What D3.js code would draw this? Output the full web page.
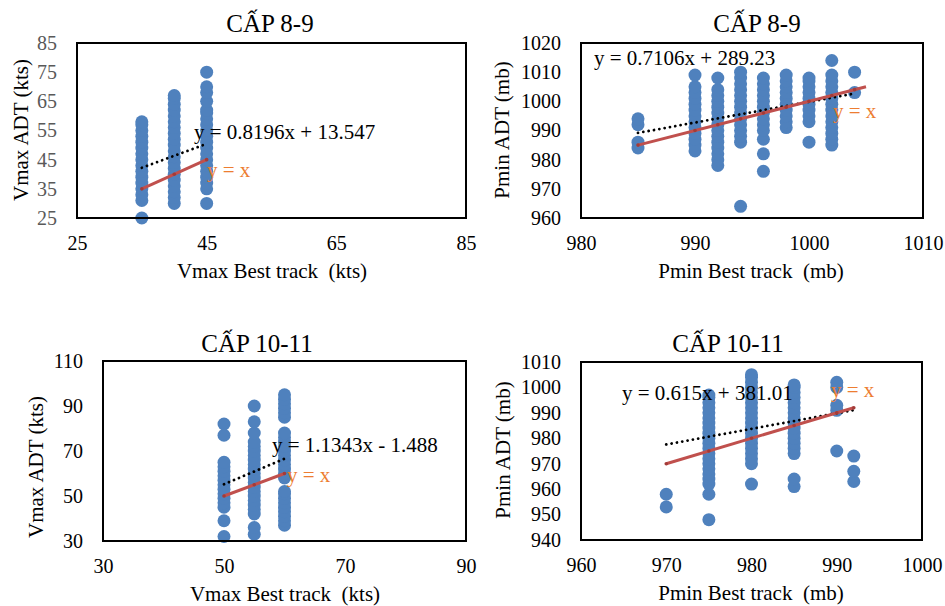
<!DOCTYPE html>
<html>
<head>
<meta charset="utf-8">
<script src="https://cdn.jsdelivr.net/npm/d3@7"></script>
<style>
body { margin: 0; background: #fff; }
text { font-family: "Liberation Serif", "Times New Roman", serif; }
</style>
</head>
<body>
<svg id="chart" width="945" height="606"></svg>
<script>
// Vmax cấp 8-9 (Best track x, ADT y)
var vmax89X = [35, 40, 45];
var vmax89Y = [
    [25, 31, 33, 35, 37, 39, 41, 43, 45, 47, 49, 51, 53, 55, 57, 58],
    [30, 32, 34, 36, 38, 40, 42, 44, 46, 48, 50, 52, 54, 56, 58, 60, 62, 64, 66, 67],
    [30, 35, 37, 39, 41, 43, 45, 47, 49, 51, 53, 55, 57, 59, 61, 62, 65, 68, 70, 75]
];

// Pmin cấp 8-9
var pmin89X = [985, 990, 992, 994, 996, 998, 1000, 1002, 1004];
var pmin89Y = [
    [984, 986, 992, 994],
    [983, 985, 987, 989, 991, 993, 995, 997, 999, 1001, 1003, 1005, 1009],
    [978, 980, 982, 984, 986, 988, 990, 992, 994, 996, 998, 1000, 1002, 1004, 1008],
    [964, 986, 988, 990, 992, 994, 996, 998, 1000, 1002, 1004, 1006, 1008, 1010],
    [976, 982, 987, 990, 992, 994, 996, 998, 1000, 1002, 1004, 1006, 1008],
    [991, 993, 995, 997, 999, 1001, 1003, 1005, 1007, 1009],
    [986, 993, 995, 997, 999, 1001, 1003, 1005, 1007, 1008],
    [985, 987, 989, 991, 993, 995, 997, 999, 1001, 1003, 1005, 1007, 1009, 1014],
    [1003, 1010]
];

// Vmax cấp 10-11
var vmax1011X = [50, 55, 60];
var vmax1011Y = [
    [32, 39, 45, 47, 49, 51, 53, 55, 57, 59, 61, 63, 65, 77, 82],
    [33, 36, 42, 44, 46, 48, 50, 52, 54, 56, 58, 60, 62, 64, 66, 68, 70, 72, 74, 78, 83, 90],
    [37, 39, 41, 43, 45, 47, 49, 51, 52, 58, 60, 62, 64, 66, 68, 70, 72, 74, 76, 78, 85, 87, 89, 91, 93, 95]
];

// Pmin cấp 10-11
var pmin1011X = [970, 975, 980, 985, 990, 992];
var pmin1011Y = [
    [953, 958],
    [948, 958, 962, 964, 966, 968, 970, 972, 974, 976, 978, 980, 982, 984, 986, 988, 990, 992, 994, 996, 997],
    [962, 970, 972, 974, 976, 978, 980, 982, 984, 986, 988, 990, 992, 994, 996, 998, 1000, 1002, 1004, 1005],
    [961, 964, 974, 976, 978, 980, 982, 984, 986, 988, 990, 992, 994, 996, 998, 1000, 1001],
    [975, 991, 993, 1000, 1002],
    [963, 967, 973]
];

// linear trendlines (slope, intercept) and y = x segments
var fitSlope = [0.8196, 0.7106, 1.1343, 0.615];
var fitIntercept = [13.547, 289.23, -1.488, 381.01];
var fitLabels = ["y = 0.8196x + 13.547", "y = 0.7106x + 289.23", "y = 1.1343x - 1.488", "y = 0.615x + 381.01"];
var identityRange = [[35, 45], [985, 1005], [50, 60], [970, 992]];

// axis ticks
var xTicks = [[25, 45, 65, 85], [980, 990, 1000, 1010], [30, 50, 70, 90], [960, 970, 980, 990, 1000]];
var yTicks = [[25, 35, 45, 55, 65, 75, 85], [960, 970, 980, 990, 1000, 1010, 1020],
              [30, 50, 70, 90, 110], [940, 950, 960, 970, 980, 990, 1000, 1010]];

var panels = [
    { xs: vmax89X, ys: vmax89Y, title: "CẤP 8-9", xLabel: "Vmax Best track  (kts)", yLabel: "Vmax ADT (kts)",
      left: 77, right: 466, top: 43, bottom: 218, titleX: 270, titleY: 32,
      xLabelX: 272, xLabelY: 278, yLabelX: 28, yLabelY: 130, yTickColor: "#595959",
      eq: [194, 139], idLab: [207, 177] },
    { xs: pmin89X, ys: pmin89Y, title: "CẤP 8-9", xLabel: "Pmin Best track  (mb)", yLabel: "Pmin ADT (mb)",
      left: 581, right: 923, top: 43, bottom: 218, titleX: 757, titleY: 32,
      xLabelX: 751, xLabelY: 278, yLabelX: 509, yLabelY: 130, yTickColor: "#000",
      eq: [594, 65], idLab: [833, 118] },
    { xs: vmax1011X, ys: vmax1011Y, title: "CẤP 10-11", xLabel: "Vmax Best track  (kts)", yLabel: "Vmax ADT (kts)",
      left: 103, right: 466, top: 361, bottom: 541, titleX: 257, titleY: 352,
      xLabelX: 285, xLabelY: 601, yLabelX: 43, yLabelY: 467, yTickColor: "#000",
      eq: [272, 452], idLab: [287, 482] },
    { xs: pmin1011X, ys: pmin1011Y, title: "CẤP 10-11", xLabel: "Pmin Best track  (mb)", yLabel: "Pmin ADT (mb)",
      left: 581, right: 922, top: 362, bottom: 540, titleX: 728, titleY: 352,
      xLabelX: 751, xLabelY: 600, yLabelX: 510, yLabelY: 450, yTickColor: "#000",
      eq: [622, 400], idLab: [831, 397] }
];

var svg = d3.select("#chart");

function drawPanel(p, i) {
    var g = svg.append("g");
    var x = d3.scaleLinear().domain(d3.extent(xTicks[i])).range([p.left, p.right]);
    var y = d3.scaleLinear().domain(d3.extent(yTicks[i])).range([p.bottom, p.top]);

    // scatter points
    var pts = p.xs.flatMap(function(xv, j) {
        return p.ys[j].map(function(yv) { return { x: xv, y: yv }; });
    });
    g.selectAll("circle.pt")
        .data(pts)
        .enter().append("circle")
        .attr("class", "pt")
        .attr("cx", d => x(d.x))
        .attr("cy", d => y(d.y))
        .attr("r", 6.5)
        .attr("fill", "#4F81BD");

    // dotted linear trendline
    var ext = d3.extent(p.xs);
    g.append("line")
        .attr("x1", x(ext[0]))
        .attr("y1", y(fitSlope[i] * ext[0] + fitIntercept[i]))
        .attr("x2", x(ext[1]))
        .attr("y2", y(fitSlope[i] * ext[1] + fitIntercept[i]))
        .attr("stroke", "#000")
        .attr("stroke-width", 2.8)
        .attr("stroke-linecap", "round")
        .attr("stroke-dasharray", "0.01 5.4");

    // y = x line
    var r = identityRange[i];
    g.append("line")
        .attr("x1", x(r[0])).attr("y1", y(r[0]))
        .attr("x2", x(r[1])).attr("y2", y(r[1]))
        .attr("stroke", "#C0504D")
        .attr("stroke-width", 3);
    g.selectAll("circle.id")
        .data(p.xs.filter(v => v >= r[0] && v <= r[1]))
        .enter().append("circle")
        .attr("class", "id")
        .attr("cx", d => x(d))
        .attr("cy", d => y(d))
        .attr("r", 1.8)
        .attr("fill", "#A33B38");

    // plot border
    g.append("rect")
        .attr("x", p.left).attr("y", p.top)
        .attr("width", p.right - p.left).attr("height", p.bottom - p.top)
        .attr("fill", "none").attr("stroke", "#000").attr("stroke-width", 2);

    // axes
    g.append("g")
        .attr("transform", "translate(0," + p.bottom + ")")
        .call(d3.axisBottom(x).tickValues(xTicks[i]).tickSize(0).tickPadding(18).tickFormat(d3.format("d")))
        .call(a => a.select(".domain").remove())
        .selectAll("text")
        .style("font-size", "20px")
        .attr("fill", "#000");

    g.append("g")
        .attr("transform", "translate(" + p.left + ",0)")
        .call(d3.axisLeft(y).tickValues(yTicks[i]).tickSize(0).tickPadding(20).tickFormat(d3.format("d")))
        .call(a => a.select(".domain").remove())
        .selectAll("text")
        .style("font-size", "20px")
        .attr("fill", p.yTickColor);

    // title and axis labels
    g.append("text")
        .attr("x", p.titleX).attr("y", p.titleY)
        .attr("text-anchor", "middle")
        .style("font-size", "25px")
        .text(p.title);

    g.append("text")
        .attr("x", p.xLabelX).attr("y", p.xLabelY)
        .attr("text-anchor", "middle")
        .style("font-size", "21px")
        .style("white-space", "pre")
        .text(p.xLabel);

    g.append("text")
        .attr("transform", "translate(" + p.yLabelX + "," + p.yLabelY + ") rotate(-90)")
        .attr("text-anchor", "middle")
        .style("font-size", "21px")
        .text(p.yLabel);

    // trendline labels
    g.append("text")
        .attr("x", p.eq[0]).attr("y", p.eq[1])
        .style("font-size", "21px")
        .attr("fill", "#000")
        .text(fitLabels[i]);

    g.append("text")
        .attr("x", p.idLab[0]).attr("y", p.idLab[1])
        .style("font-size", "21px")
        .attr("fill", "#ED7D31")
        .text("y = x");
}

panels.forEach(drawPanel);
</script>
</body>
</html>
